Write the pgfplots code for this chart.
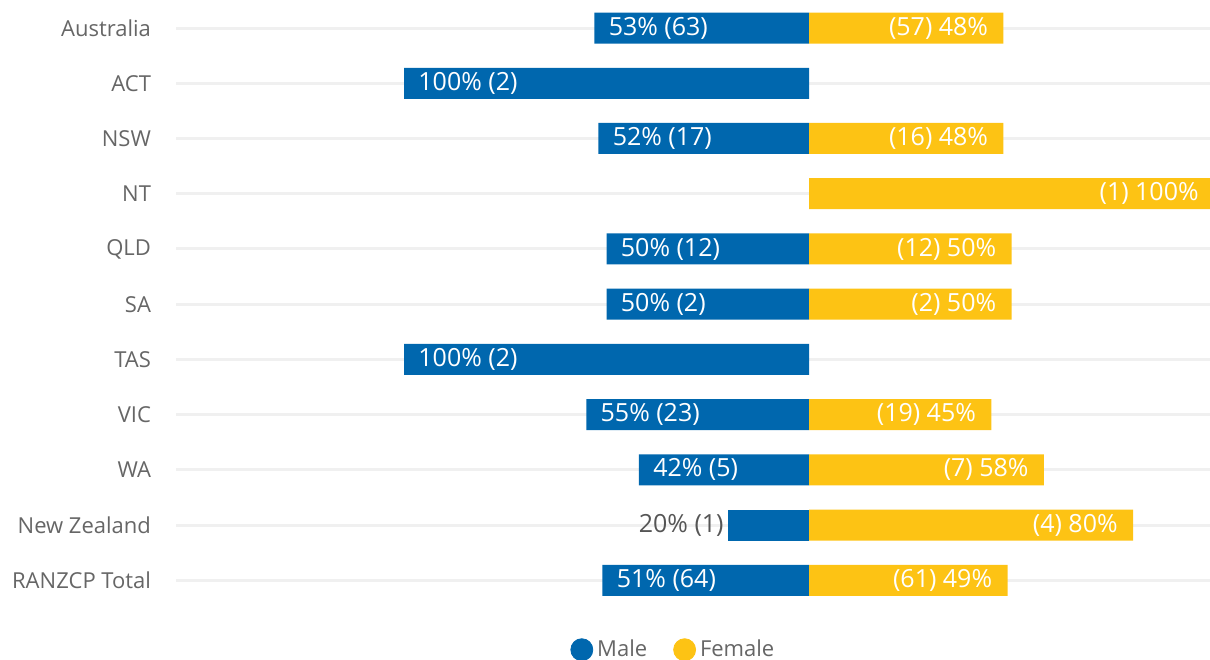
\documentclass[border=0pt]{standalone}
\usepackage{fontspec}
\setmainfont{Open Sans}
\usepackage{pgfplots}
\pgfplotsset{compat=1.18}
\definecolor{mblue}{HTML}{0067AE}
\definecolor{fyellow}{HTML}{FDC314}
\definecolor{catgray}{HTML}{666666}
\definecolor{gridgray}{HTML}{F0F0F0}
\definecolor{lblgray}{HTML}{555555}
\begin{document}
\begin{tikzpicture}
\begin{axis}[
  at={(0,0)}, anchor=south west,
  scale only axis, width=517pt, height=303.8pt,
  xmin=-156.3, xmax=99, ymin=-0.5, ymax=10.5, y dir=reverse,
  axis line style={draw=none},
  ytick={0,...,10},
  yticklabels={Australia,ACT,NSW,NT,QLD,SA,TAS,VIC,WA,New Zealand,RANZCP Total},
  yticklabel style={anchor=east, xshift=-9pt, text=catgray, font=\fontsize{11}{13}\selectfont},
  xtick=\empty,
  major tick length=0pt,
  ymajorgrids, grid style={gridgray, line width=1.5pt},
  clip=false,
  point meta=explicit symbolic,
  legend style={at={(axis description cs:0.482,-0.0386)}, anchor=north, draw=none, fill=none,
    legend columns=2, font=\fontsize{11}{13}\selectfont, text=catgray,
    /tikz/every even column/.append style={column sep=11pt}},
]
\addplot[xbar, bar width=15.5pt, bar shift=0pt, fill=mblue, draw=none,
  nodes near coords, nodes near coords style={anchor=west, inner sep=0pt, xshift=7pt, text=white, font=\fontsize{12.5}{14}\selectfont},
  legend image code/.code={\draw[draw=mblue, fill=mblue] (0.3em,0pt) circle[radius=5.5pt];}]
  coordinates {
  (-53,0) [53\% (63)]
  (-100,1) [100\% (2)]
  (-52,2) [52\% (17)]
  (-50,4) [50\% (12)]
  (-50,5) [50\% (2)]
  (-100,6) [100\% (2)]
  (-55,7) [55\% (23)]
  (-42,8) [42\% (5)]
  (-51,10) [51\% (64)]
  };
\addlegendentry{Male}
\addplot[xbar, bar width=15.5pt, bar shift=0pt, fill=fyellow, draw=none,
  nodes near coords, nodes near coords style={anchor=east, inner sep=0pt, xshift=-7.5pt, text=white, font=\fontsize{12.5}{14}\selectfont},
  legend image code/.code={\draw[draw=fyellow, fill=fyellow] (0.3em,0pt) circle[radius=5.5pt];}]
  coordinates {
  (48,0) [(57) 48\%]
  (48,2) [(16) 48\%]
  (100,3) [(1) 100\%]
  (50,4) [(12) 50\%]
  (50,5) [(2) 50\%]
  (45,7) [(19) 45\%]
  (58,8) [(7) 58\%]
  (80,9) [(4) 80\%]
  (49,10) [(61) 49\%]
  };
\addlegendentry{Female}
\addplot[xbar, bar width=15.5pt, bar shift=0pt, fill=mblue, draw=none, forget plot,
  nodes near coords, nodes near coords style={anchor=east, inner sep=0pt, xshift=-2pt, text=lblgray, font=\fontsize{12.5}{14}\selectfont}]
  coordinates {
  (-20,9) [20\% (1)]
  };
\end{axis}
\pgfresetboundingbox
\path (-88pt,-25.7pt) rectangle (517pt,304pt);
\end{tikzpicture}
\end{document}
